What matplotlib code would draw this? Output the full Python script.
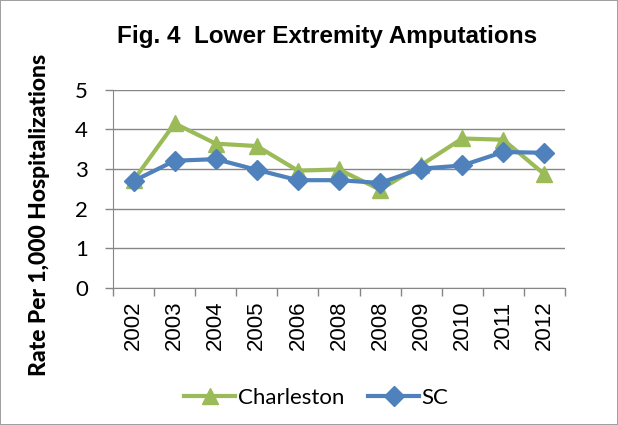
import matplotlib
matplotlib.use("Agg")
import matplotlib.pyplot as plt
import numpy as np

years = ["2002", "2003", "2004", "2005", "2006", "2008", "2008", "2009", "2010", "2011", "2012"]
charleston = [2.72, 4.15, 3.64, 3.58, 2.96, 2.99, 2.48, 3.10, 3.77, 3.74, 2.87]
sc = [2.70, 3.21, 3.25, 2.98, 2.72, 2.72, 2.65, 3.01, 3.09, 3.43, 3.41]

green = "#9BBB59"
blue = "#4F81BD"
grid_c = "#868686"

fig = plt.figure(figsize=(6.18, 4.25), dpi=100)
fig.patch.set_edgecolor("#A0A0A0")
fig.patch.set_linewidth(1.2)
ax = fig.add_axes([0.183, 0.322, 0.731, 0.467])

x = np.arange(len(years))
ax.plot(x, charleston, color=green, lw=3, marker="^", ms=12, label="Charleston")
ax.plot(x, sc, color=blue, lw=3, marker="D", ms=10, label="SC")

ax.set_xlim(-0.5, len(years) - 0.5)
ax.set_ylim(0, 5)
ax.set_yticks(range(6))
ax.set_yticklabels([str(v) for v in range(6)], family="Lato", fontsize=16)
ax.set_xticks(x)
ax.set_xticklabels(years, rotation=90, family="Liberation Sans", fontsize=16)
ax.set_xticks(np.arange(-0.5, len(years)), minor=True)
ax.tick_params(axis="x", which="major", length=0, pad=9)
ax.tick_params(axis="x", which="minor", length=6, color=grid_c, width=1)
ax.tick_params(axis="y", length=6, color=grid_c, width=1, pad=12)
ax.yaxis.grid(True, color=grid_c, lw=1)
ax.set_axisbelow(True)
for s in ["top", "right"]:
    ax.spines[s].set_visible(False)
for s in ["left", "bottom"]:
    ax.spines[s].set_color(grid_c)

ax.set_ylabel("Rate Per 1,000 Hospitalizations", family="Lato", fontweight="black", fontsize=16.5)
ax.yaxis.set_label_coords(-0.14, 0.367)
fig.text(0.53, 0.913, "Fig. 4  Lower Extremity Amputations", ha="center", va="center",
         family="Liberation Sans", fontweight="bold", fontsize=17.5)
fig.legend(loc="center", bbox_to_anchor=(0.512, 0.063), ncol=2, frameon=False,
           prop={"family": "Lato", "size": 16}, handlelength=2.3, columnspacing=1.1,
           handletextpad=0.1)

fig.savefig("out.png", dpi=100)
